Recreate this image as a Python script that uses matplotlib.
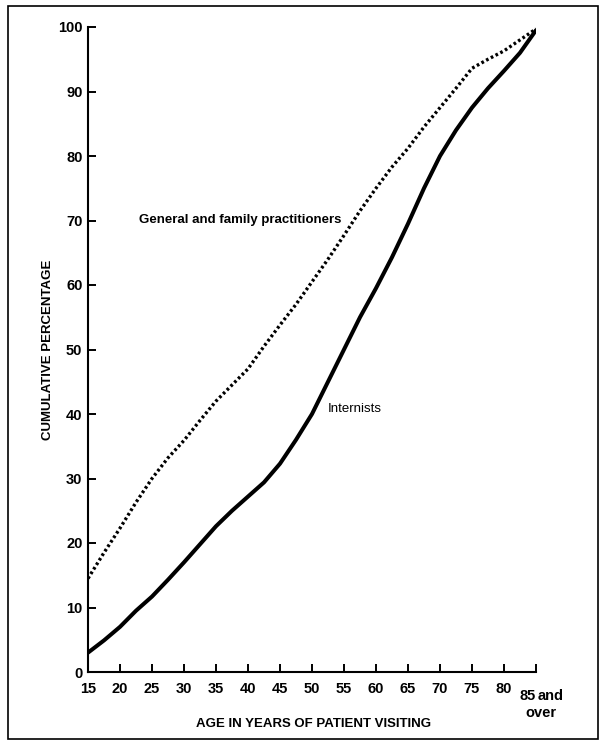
import matplotlib
matplotlib.use("Agg")
import matplotlib.pyplot as plt
from matplotlib.patches import Rectangle
from matplotlib.transforms import blended_transform_factory

plt.rcParams['font.family'] = ['Liberation Sans', 'DejaVu Sans']

ages = [15, 17.5, 20, 22.5, 25, 27.5, 30, 32.5, 35, 37.5, 40, 42.5, 45, 47.5,
        50, 52.5, 55, 57.5, 60, 62.5, 65, 67.5, 70, 72.5, 75, 77.5, 80, 82.5, 85]
internists = [3.0, 4.9, 7.0, 9.5, 11.7, 14.3, 17.0, 19.8, 22.6, 25.0, 27.2, 29.4,
              32.3, 36.0, 40.0, 45.0, 50.0, 55.0, 59.5, 64.3, 69.5, 75.0, 80.0,
              84.0, 87.5, 90.5, 93.2, 96.0, 99.5]
general_family = [14.5, 18.5, 22.3, 26.3, 30.0, 33.2, 35.9, 39.0, 42.0, 44.5, 47.0,
                  50.5, 53.8, 57.0, 60.5, 64.0, 67.7, 71.5, 75.0, 78.3, 81.2, 84.5,
                  87.5, 90.5, 93.6, 95.0, 96.3, 98.0, 99.7]

x_ticks = [15, 20, 25, 30, 35, 40, 45, 50, 55, 60, 65, 70, 75, 80, 85]
x_labels = ['15', '20', '25', '30', '35', '40', '45', '50', '55', '60', '65', '70', '75', '80', '']
y_ticks = [0, 10, 20, 30, 40, 50, 60, 70, 80, 90, 100]

W, H = 601, 743
fig = plt.figure(figsize=(W / 100, H / 100), dpi=100)
fig.patch.set_facecolor('white')

# outer frame
fig.patches.append(Rectangle((8 / W, 1 - 739 / H), (598 - 8) / W, (739 - 6) / H,
                             transform=fig.transFigure, fill=False,
                             edgecolor='black', linewidth=1.2))

left, right = 88, 536
bottom, top = 672, 27
ax = fig.add_axes([left / W, 1 - bottom / H, (right - left) / W, (bottom - top) / H])

ax.plot(ages, internists, color='black', linewidth=2.9, solid_capstyle='round')
ax.plot(ages, general_family, color='black', linewidth=2.4, linestyle=(0, (0.8, 0.8)))

ax.set_xlim(15, 85)
ax.set_ylim(0, 100)
ax.spines['top'].set_visible(False)
ax.spines['right'].set_visible(False)
ax.spines['left'].set_linewidth(1.5)
ax.spines['bottom'].set_linewidth(1.5)

ax.set_xticks(x_ticks)
ax.set_xticklabels(x_labels, fontweight='bold')
ax.set_yticks(y_ticks)
for lab in ax.get_yticklabels():
    lab.set_fontweight('bold')
ax.tick_params(direction='in', length=6, width=1.4, labelsize=10.5, pad=7)
ax.tick_params(axis='y', pad=4)

trans = blended_transform_factory(ax.transData, ax.transAxes)
ax.text(85, -0.027, '85', transform=trans, ha='right', va='top', fontsize=10.5,
        fontweight='bold')
ax.text(85.2, -0.027, 'and', transform=trans, ha='left', va='top', fontsize=10.5,
        fontweight='bold')
ax.text(85.7, -0.052, 'over', transform=trans, ha='center', va='top', fontsize=10.5,
        fontweight='bold')

ax.text(23, 70, 'General and family practitioners', fontsize=9.5, ha='left',
        va='center', fontweight='bold')
ax.text(52.5, 40.7, 'Internists', fontsize=9.5, ha='left', va='center')

fig.text(48 / W, 1 - 350 / H, 'CUMULATIVE PERCENTAGE', rotation=90,
         ha='center', va='center', fontsize=9.5, fontweight='bold')
fig.text(314 / W, 1 - 724 / H, 'AGE IN YEARS OF PATIENT VISITING',
         ha='center', va='center', fontsize=9.5, fontweight='bold')

fig.savefig('out.png', dpi=100)
